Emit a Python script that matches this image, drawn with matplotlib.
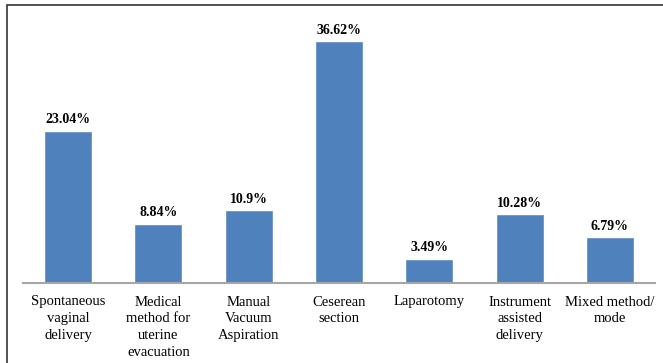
import matplotlib
matplotlib.use("Agg")
import matplotlib.pyplot as plt
from matplotlib.patches import Rectangle

categories = [
    "Spontaneous\nvaginal\ndelivery",
    "Medical\nmethod for\nuterine\nevacuation",
    "Manual\nVacuum\nAspiration",
    "Ceserean\nsection",
    "Laparotomy",
    "Instrument\nassisted\ndelivery",
    "Mixed method/\nmode",
]
percent = [23.04, 8.84, 10.9, 36.62, 3.49, 10.28, 6.79]
value_labels = ["23.04%", "8.84%", "10.9%", "36.62%", "3.49%", "10.28%", "6.79%"]

plt.rcParams["font.family"] = ["Liberation Serif", "DejaVu Serif"]

W, H = 663, 363
fig = plt.figure(figsize=(W / 100, H / 100), dpi=100)
ax = fig.add_axes([23 / W, 80 / H, 632 / W, 263 / H])

x = range(len(categories))
bars = ax.bar(x, percent, width=0.51, color="#4F81BD", edgecolor="#6D93C8", linewidth=0.6)
for b, lab in zip(bars, value_labels):
    ax.annotate(lab, (b.get_x() + b.get_width() / 2, b.get_height()),
                xytext=(0, 4), textcoords="offset points",
                ha="center", va="bottom", fontsize=10, fontweight="bold")

ax.set_xlim(-0.5, len(categories) - 0.5)
ax.set_ylim(0, 40)
ax.set_xticks(list(x))
ax.set_xticklabels(categories, fontsize=10.5, linespacing=1.38)
ax.tick_params(axis="x", length=0, pad=9)
ax.set_yticks([])
for side in ("top", "right", "left"):
    ax.spines[side].set_visible(False)
ax.spines["bottom"].set_color("#A6A6A6")
ax.spines["bottom"].set_linewidth(1.5)

# outer frame, only its top and left edges fall inside the canvas
fig.patches.append(Rectangle((7 / W, -0.1), 1.2, (H - 5) / H + 0.1,
                             transform=fig.transFigure, fill=False,
                             edgecolor="#333333", linewidth=1.2))

fig.savefig("out.png", dpi=100)
